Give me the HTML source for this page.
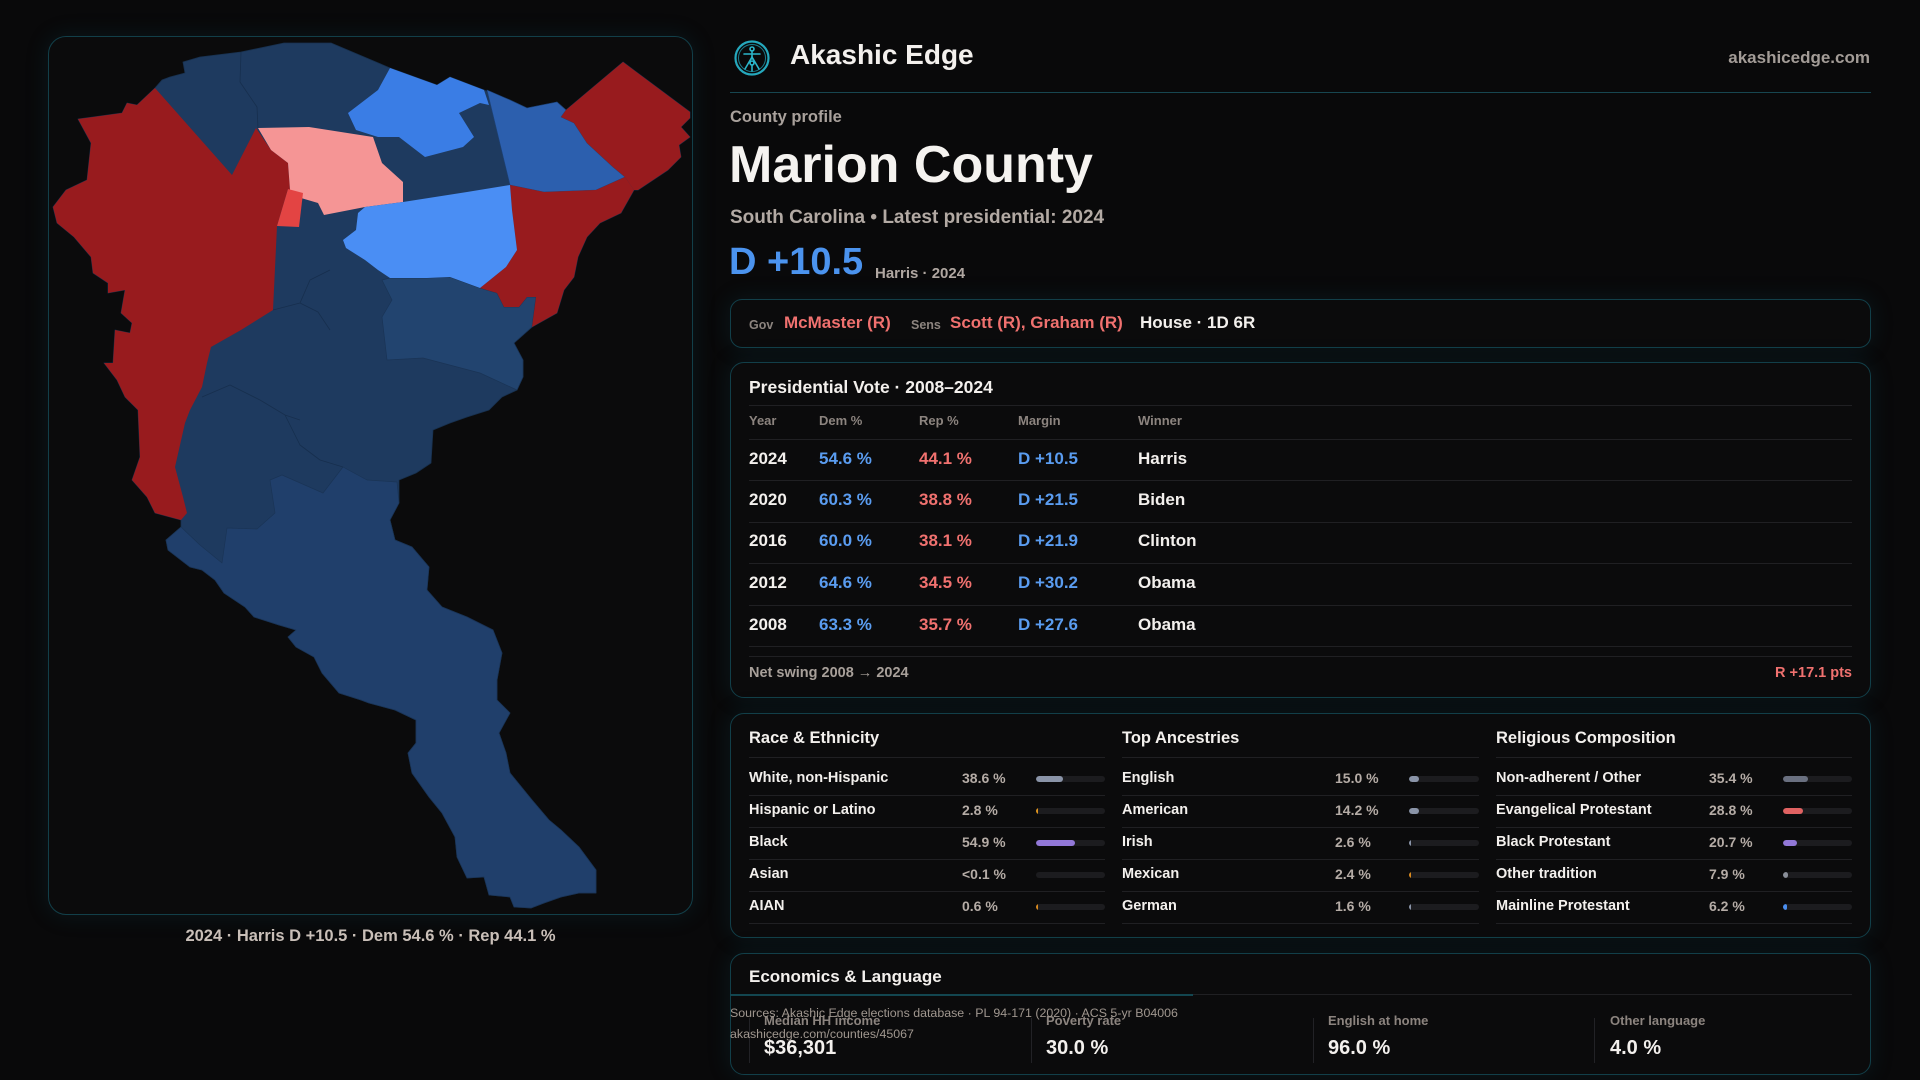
<!DOCTYPE html>
<html>
<head>
<meta charset="utf-8">
<style>
  html,body{margin:0;padding:0;}
  body{width:1920px;height:1080px;overflow:hidden;background:#09090a;position:relative;font-family:"Liberation Sans",sans-serif;}
  .t{position:absolute;line-height:1;white-space:nowrap;font-weight:bold;font-family:"Liberation Sans",sans-serif;}
  .panel{position:absolute;box-sizing:border-box;border:1.5px solid #123f49;border-radius:14px;background:#0b0b0c;box-shadow:0 0 22px 2px rgba(20,85,105,0.16);}
  .ln{position:absolute;height:1px;background:#202023;}
  .vl{position:absolute;width:1px;background:#222226;}
  .trk{position:absolute;height:6px;border-radius:3px;background:#1c1c1f;overflow:hidden;}
  .trk i{position:absolute;left:0;top:0;height:6px;border-radius:3px;display:block;}
  .w{color:#f3f0ed;}
  .g{color:#8c847f;}
  .v{color:#b5aca6;}
  .b{color:#5a9cf0;}
  .r{color:#f0716f;}
</style>
</head>
<body>

<!-- Map panel -->
<div class="panel" style="left:48px;top:36px;width:645px;height:879px;border-radius:18px;"></div>
<svg style="position:absolute;left:0;top:0" width="720" height="940" viewBox="0 0 720 940">
  <g stroke-linejoin="round">
    <!-- base navy -->
    <path fill="#1e3a5f" stroke="#18314f" stroke-width="0.8" d="M78,119 L93,117 122,113 127,103 137,105 155,88 162,80 170,77 185,73 183,62 200,57 241,52 284,43 331,43 390,68 437,85 450,77 484,90 510,100 527,108 557,102 566,110 623,62 690,112 690,118 681,127 690,137 679,145 681,157 668,170 638,190 634,190 621,213 600,223 587,237 578,257 574,277 564,290 557,313 532,327 514,343 523,360 523,377 517,390 502,397 489,410 467,417 450,423 433,430 431,463 416,473 399,480 399,503 390,520 395,540 412,547 429,567 427,590 442,607 467,617 493,630 502,653 497,680 497,700 510,713 499,733 506,753 510,773 532,800 549,820 561,830 579,847 596,870 596,893 579,893 561,897 544,903 531,908 514,907 510,897 489,895 484,877 467,878 457,857 455,837 442,813 429,797 412,773 408,753 416,743 416,720 395,710 369,703 361,700 339,693 322,673 314,657 296,647 288,637 296,630 279,625 254,617 245,607 224,593 215,580 202,570 190,567 168,550 166,540 181,527 181,520 155,513 147,497 132,480 140,457 138,410 125,397 117,380 104,363 113,363 115,330 130,333 132,323 121,313 125,290 108,293 108,283 93,273 91,257 74,237 57,223 53,207 66,190 87,180 91,143 Z"/>
    <!-- south lighter lobe -->
    <path fill="#203f6b" stroke="#1a3456" stroke-width="0.7" d="M181,527 L200,545 222,563 227,528 257,529 275,513 270,480 282,475 323,493 343,467 367,480 397,482 399,503 390,520 395,540 412,547 429,567 427,590 442,607 467,617 493,630 502,653 497,680 497,700 510,713 499,733 506,753 510,773 532,800 549,820 561,830 579,847 596,870 596,893 579,893 561,897 544,903 531,908 514,907 510,897 489,895 484,877 467,878 457,857 455,837 442,813 429,797 412,773 408,753 416,743 416,720 395,710 369,703 361,700 339,693 322,673 314,657 296,647 288,637 296,630 279,625 254,617 245,607 224,593 215,580 202,570 190,567 168,550 166,540 Z"/>
    <!-- east-mid navy -->
    <path fill="#22446f" stroke="#1a3456" stroke-width="0.7" d="M390,278 L427,278 450,277 480,288 497,293 504,307 519,307 527,297 536,297 532,327 514,343 523,360 523,377 517,390 480,373 423,358 387,360 382,317 392,300 382,280 Z"/>
    <!-- internal boundaries -->
    <path fill="none" stroke="#172f4e" stroke-width="0.8" d="M241,52 L240,82 257,107 258,128 M273,310 L300,303 318,312 330,330 M300,303 L310,280 330,270 M202,397 L230,385 260,400 285,415 300,420 M285,415 L300,445 320,460 343,467"/>
    <!-- west red -->
    <path fill="#981b1e" d="M78,119 L93,117 122,113 127,103 137,105 155,88 232,175 256,128 271,150 288,163 290,190 288,189 277,226 273,310 241,330 211,347 207,363 202,387 190,410 185,423 175,467 183,497 187,513 181,520 155,513 147,497 132,480 140,457 138,410 125,397 117,380 104,363 113,363 115,330 130,333 132,323 121,313 125,290 108,293 108,283 93,273 91,257 74,237 57,223 53,207 66,190 87,180 91,143 Z"/>
    <!-- pink -->
    <path fill="#f59595" d="M258,128 L309,127 373,137 382,163 403,182 403,202 365,207 324,215 318,203 301,198 290,190 288,163 271,150 Z"/>
    <!-- small bright red -->
    <path fill="#e34443" d="M288,189 L303,193 299,227 277,226 Z"/>
    <!-- top bright blue -->
    <path fill="#3a7de5" d="M390,68 L437,85 450,77 484,90 489,105 480,103 459,113 474,137 463,147 425,157 399,137 378,137 356,130 348,113 378,90 Z"/>
    <!-- NE mid blue -->
    <path fill="#2c5fae" stroke="#1d4277" stroke-width="0.6" d="M487,90 L510,100 527,108 557,102 566,110 561,117 574,123 587,143 613,167 625,177 596,190 544,192 510,185 Z"/>
    <!-- NE red -->
    <path fill="#981b1e" d="M566,110 L623,62 690,112 690,118 681,127 690,137 679,145 681,157 668,170 638,190 634,190 625,177 613,167 587,143 574,123 561,117 Z"/>
    <!-- east red -->
    <path fill="#981b1e" d="M510,185 L544,192 596,190 625,177 634,190 621,213 600,223 587,237 578,257 574,277 564,290 557,313 532,327 536,297 527,297 519,307 504,307 497,293 480,288 506,267 517,250 512,210 Z"/>
    <!-- light blue center -->
    <path fill="#4a8ef4" d="M365,207 L403,202 467,192 510,185 512,210 517,250 506,267 480,288 450,277 427,278 390,278 378,270 365,260 346,248 343,240 356,230 358,213 Z"/>
  </g>
</svg>
<div class="t" style="left:0;width:741px;text-align:center;top:928px;font-size:16.5px;color:#c9bfb8;">2024 · Harris D +10.5 · Dem 54.6 % · Rep 44.1 %</div>

<!-- Header -->
<svg style="position:absolute;left:732px;top:38px" width="40" height="40" viewBox="0 0 40 40">
  <circle cx="20" cy="20" r="16.5" fill="none" stroke="#25a8bd" stroke-width="2.2"/>
  <circle cx="20" cy="20" r="13.5" fill="none" stroke="#1a7d8d" stroke-width="1"/>
  <g stroke="#2bb5c9" stroke-width="1.6" fill="none" stroke-linecap="round">
    <circle cx="20" cy="11" r="2"/>
    <line x1="12" y1="16" x2="28" y2="16"/>
    <line x1="20" y1="13" x2="20" y2="21"/>
    <line x1="20" y1="19" x2="13" y2="31"/>
    <line x1="20" y1="19" x2="27" y2="31"/>
    <circle cx="20" cy="25" r="2"/>
    <line x1="20" y1="27" x2="20" y2="33"/>
  </g>
</svg>
<div class="t w" style="left:790px;top:41px;font-size:28px;">Akashic Edge</div>
<div class="t" style="right:50px;top:48.6px;font-size:17px;color:#a39c97;">akashicedge.com</div>
<div style="position:absolute;left:730px;top:91.5px;width:1141px;height:1.5px;background:#174650;"></div>

<div class="t" style="left:730px;top:109px;font-size:16.5px;color:#a9a19c;">County profile</div>
<div class="t" style="left:729px;top:139px;font-size:52px;color:#f5f3f0;">Marion County</div>
<div class="t" style="left:730px;top:208px;font-size:19px;color:#b3aaa4;">South Carolina • Latest presidential: 2024</div>
<div class="t" style="left:729px;top:243px;font-size:38px;color:#4b93ee;">D +10.5</div>
<div class="t" style="left:875px;top:266.3px;font-size:15px;color:#b0a7a1;">Harris · 2024</div>

<!-- Gov box -->
<div class="panel" style="left:730px;top:299px;width:1141px;height:49px;border-radius:12px;"></div>
<div class="t g" style="left:749px;top:319px;font-size:12.5px;">Gov</div>
<div class="t r" style="left:784px;top:313.6px;font-size:17px;">McMaster (R)</div>
<div class="t g" style="left:911px;top:319px;font-size:12.5px;">Sens</div>
<div class="t r" style="left:950px;top:313.6px;font-size:17px;">Scott (R), Graham (R)</div>
<div class="t w" style="left:1140px;top:313.6px;font-size:17px;">House · 1D 6R</div>

<!-- Presidential panel -->
<div class="panel" style="left:730px;top:362px;width:1141px;height:336px;"></div>
<div class="t w" style="left:749px;top:378.5px;font-size:17.5px;">Presidential Vote · 2008–2024</div>
<div class="ln" style="left:749px;top:405px;width:1103px;"></div>
<div class="t g" style="left:749px;top:414px;font-size:13px;">Year</div>
<div class="t g" style="left:819px;top:414px;font-size:13px;">Dem %</div>
<div class="t g" style="left:919px;top:414px;font-size:13px;">Rep %</div>
<div class="t g" style="left:1018px;top:414px;font-size:13px;">Margin</div>
<div class="t g" style="left:1138px;top:414px;font-size:13px;">Winner</div>
<div class="ln" style="left:749px;top:439px;width:1103px;"></div>

<div class="t w" style="left:749px;top:449.6px;font-size:17px;">2024</div>
<div class="t b" style="left:819px;top:449.6px;font-size:17px;">54.6 %</div>
<div class="t r" style="left:919px;top:449.6px;font-size:17px;">44.1 %</div>
<div class="t b" style="left:1018px;top:449.6px;font-size:17px;">D +10.5</div>
<div class="t w" style="left:1138px;top:449.6px;font-size:17px;">Harris</div>
<div class="ln" style="left:749px;top:480px;width:1103px;"></div>

<div class="t w" style="left:749px;top:491.3px;font-size:17px;">2020</div>
<div class="t b" style="left:819px;top:491.3px;font-size:17px;">60.3 %</div>
<div class="t r" style="left:919px;top:491.3px;font-size:17px;">38.8 %</div>
<div class="t b" style="left:1018px;top:491.3px;font-size:17px;">D +21.5</div>
<div class="t w" style="left:1138px;top:491.3px;font-size:17px;">Biden</div>
<div class="ln" style="left:749px;top:521.7px;width:1103px;"></div>

<div class="t w" style="left:749px;top:532.3px;font-size:17px;">2016</div>
<div class="t b" style="left:819px;top:532.3px;font-size:17px;">60.0 %</div>
<div class="t r" style="left:919px;top:532.3px;font-size:17px;">38.1 %</div>
<div class="t b" style="left:1018px;top:532.3px;font-size:17px;">D +21.9</div>
<div class="t w" style="left:1138px;top:532.3px;font-size:17px;">Clinton</div>
<div class="ln" style="left:749px;top:563.3px;width:1103px;"></div>

<div class="t w" style="left:749px;top:574.3px;font-size:17px;">2012</div>
<div class="t b" style="left:819px;top:574.3px;font-size:17px;">64.6 %</div>
<div class="t r" style="left:919px;top:574.3px;font-size:17px;">34.5 %</div>
<div class="t b" style="left:1018px;top:574.3px;font-size:17px;">D +30.2</div>
<div class="t w" style="left:1138px;top:574.3px;font-size:17px;">Obama</div>
<div class="ln" style="left:749px;top:605.3px;width:1103px;"></div>

<div class="t w" style="left:749px;top:616.3px;font-size:17px;">2008</div>
<div class="t b" style="left:819px;top:616.3px;font-size:17px;">63.3 %</div>
<div class="t r" style="left:919px;top:616.3px;font-size:17px;">35.7 %</div>
<div class="t b" style="left:1018px;top:616.3px;font-size:17px;">D +27.6</div>
<div class="t w" style="left:1138px;top:616.3px;font-size:17px;">Obama</div>
<div class="ln" style="left:749px;top:646px;width:1103px;"></div>
<div class="ln" style="left:749px;top:656px;width:1103px;"></div>

<div class="t" style="left:749px;top:665.7px;font-size:14.5px;color:#a8a09a;">Net swing 2008 → 2024</div>
<div class="t r" style="right:68px;top:665.7px;font-size:14.5px;">R +17.1 pts</div>

<!-- Demographics panel -->
<div class="panel" style="left:730px;top:713px;width:1141px;height:225px;"></div>
<div class="t w" style="left:749px;top:730px;font-size:16.5px;">Race &amp; Ethnicity</div>
<div class="t w" style="left:1122px;top:730px;font-size:16.5px;">Top Ancestries</div>
<div class="t w" style="left:1496px;top:730px;font-size:16.5px;">Religious Composition</div>
<div class="ln" style="left:749px;top:757px;width:356px;"></div>
<div class="ln" style="left:1122px;top:757px;width:357px;"></div>
<div class="ln" style="left:1496px;top:757px;width:356px;"></div>

<!-- col1 -->
<div class="t w" style="left:749px;top:770.7px;font-size:14.5px;">White, non-Hispanic</div>
<div class="t v" style="left:962px;top:771px;font-size:14px;">38.6 %</div>
<div class="trk" style="left:1036px;top:776px;width:69px;"><i style="width:27px;background:#8a94a8;"></i></div>
<div class="t w" style="left:749px;top:802.7px;font-size:14.5px;">Hispanic or Latino</div>
<div class="t v" style="left:962px;top:803px;font-size:14px;">2.8 %</div>
<div class="trk" style="left:1036px;top:808px;width:69px;"><i style="width:2px;border-radius:0;background:#e0951f;"></i></div>
<div class="t w" style="left:749px;top:834.7px;font-size:14.5px;">Black</div>
<div class="t v" style="left:962px;top:835px;font-size:14px;">54.9 %</div>
<div class="trk" style="left:1036px;top:840px;width:69px;"><i style="width:39px;background:#9278d8;"></i></div>
<div class="t w" style="left:749px;top:866.7px;font-size:14.5px;">Asian</div>
<div class="t v" style="left:962px;top:867px;font-size:14px;">&lt;0.1 %</div>
<div class="trk" style="left:1036px;top:872px;width:69px;"></div>
<div class="t w" style="left:749px;top:898.7px;font-size:14.5px;">AIAN</div>
<div class="t v" style="left:962px;top:899px;font-size:14px;">0.6 %</div>
<div class="trk" style="left:1036px;top:904px;width:69px;"><i style="width:1.5px;border-radius:0;background:#d98a1f;"></i></div>
<div class="ln" style="left:749px;top:795px;width:356px;"></div>
<div class="ln" style="left:749px;top:827px;width:356px;"></div>
<div class="ln" style="left:749px;top:859px;width:356px;"></div>
<div class="ln" style="left:749px;top:891px;width:356px;"></div>
<div class="ln" style="left:749px;top:923px;width:356px;"></div>

<!-- col2 -->
<div class="t w" style="left:1122px;top:770.7px;font-size:14.5px;">English</div>
<div class="t v" style="left:1335px;top:771px;font-size:14px;">15.0 %</div>
<div class="trk" style="left:1409px;top:776px;width:70px;"><i style="width:10px;background:#8a94a8;"></i></div>
<div class="t w" style="left:1122px;top:802.7px;font-size:14.5px;">American</div>
<div class="t v" style="left:1335px;top:803px;font-size:14px;">14.2 %</div>
<div class="trk" style="left:1409px;top:808px;width:70px;"><i style="width:10px;background:#8a94a8;"></i></div>
<div class="t w" style="left:1122px;top:834.7px;font-size:14.5px;">Irish</div>
<div class="t v" style="left:1335px;top:835px;font-size:14px;">2.6 %</div>
<div class="trk" style="left:1409px;top:840px;width:70px;"><i style="width:2px;border-radius:0;background:#8a94a8;"></i></div>
<div class="t w" style="left:1122px;top:866.7px;font-size:14.5px;">Mexican</div>
<div class="t v" style="left:1335px;top:867px;font-size:14px;">2.4 %</div>
<div class="trk" style="left:1409px;top:872px;width:70px;"><i style="width:2px;border-radius:0;background:#d98a1f;"></i></div>
<div class="t w" style="left:1122px;top:898.7px;font-size:14.5px;">German</div>
<div class="t v" style="left:1335px;top:899px;font-size:14px;">1.6 %</div>
<div class="trk" style="left:1409px;top:904px;width:70px;"><i style="width:1.5px;border-radius:0;background:#8a94a8;"></i></div>
<div class="ln" style="left:1122px;top:795px;width:357px;"></div>
<div class="ln" style="left:1122px;top:827px;width:357px;"></div>
<div class="ln" style="left:1122px;top:859px;width:357px;"></div>
<div class="ln" style="left:1122px;top:891px;width:357px;"></div>
<div class="ln" style="left:1122px;top:923px;width:357px;"></div>

<!-- col3 -->
<div class="t w" style="left:1496px;top:770.7px;font-size:14.5px;">Non-adherent / Other</div>
<div class="t v" style="left:1709px;top:771px;font-size:14px;">35.4 %</div>
<div class="trk" style="left:1783px;top:776px;width:69px;"><i style="width:25px;background:#6a7080;"></i></div>
<div class="t w" style="left:1496px;top:802.7px;font-size:14.5px;">Evangelical Protestant</div>
<div class="t v" style="left:1709px;top:803px;font-size:14px;">28.8 %</div>
<div class="trk" style="left:1783px;top:808px;width:69px;"><i style="width:20px;background:#e06262;"></i></div>
<div class="t w" style="left:1496px;top:834.7px;font-size:14.5px;">Black Protestant</div>
<div class="t v" style="left:1709px;top:835px;font-size:14px;">20.7 %</div>
<div class="trk" style="left:1783px;top:840px;width:69px;"><i style="width:14px;background:#9278d8;"></i></div>
<div class="t w" style="left:1496px;top:866.7px;font-size:14.5px;">Other tradition</div>
<div class="t v" style="left:1709px;top:867px;font-size:14px;">7.9 %</div>
<div class="trk" style="left:1783px;top:872px;width:69px;"><i style="width:5px;background:#8a8f99;"></i></div>
<div class="t w" style="left:1496px;top:898.7px;font-size:14.5px;">Mainline Protestant</div>
<div class="t v" style="left:1709px;top:899px;font-size:14px;">6.2 %</div>
<div class="trk" style="left:1783px;top:904px;width:69px;"><i style="width:4px;background:#4a8ef0;"></i></div>
<div class="ln" style="left:1496px;top:795px;width:356px;"></div>
<div class="ln" style="left:1496px;top:827px;width:356px;"></div>
<div class="ln" style="left:1496px;top:859px;width:356px;"></div>
<div class="ln" style="left:1496px;top:891px;width:356px;"></div>
<div class="ln" style="left:1496px;top:923px;width:356px;"></div>

<!-- Economics panel -->
<div class="panel" style="left:730px;top:953px;width:1141px;height:122px;"></div>
<div class="t w" style="left:749px;top:968.3px;font-size:17px;">Economics &amp; Language</div>
<div class="ln" style="left:749px;top:994px;width:1103px;"></div>
<div style="position:absolute;left:730px;top:994px;width:463px;height:1.5px;background:#134650;"></div>
<div class="vl" style="left:749px;top:1018px;height:45px;"></div>
<div class="vl" style="left:1031px;top:1018px;height:45px;"></div>
<div class="vl" style="left:1313px;top:1018px;height:45px;"></div>
<div class="vl" style="left:1594px;top:1018px;height:45px;"></div>
<div class="t g" style="left:764px;top:1014px;font-size:13px;">Median HH income</div>
<div class="t g" style="left:1046px;top:1014px;font-size:13px;">Poverty rate</div>
<div class="t g" style="left:1328px;top:1014px;font-size:13px;">English at home</div>
<div class="t g" style="left:1610px;top:1014px;font-size:13px;">Other language</div>
<div class="t w" style="left:764px;top:1038px;font-size:20px;">$36,301</div>
<div class="t w" style="left:1046px;top:1038px;font-size:20px;">30.0 %</div>
<div class="t w" style="left:1328px;top:1038px;font-size:20px;">96.0 %</div>
<div class="t w" style="left:1610px;top:1038px;font-size:20px;">4.0 %</div>
<div class="t" style="left:730px;top:1006.5px;font-size:12.4px;font-weight:normal;color:#a0978f;">Sources: Akashic Edge elections database · PL 94-171 (2020) · ACS 5-yr B04006</div>
<div class="t" style="left:730px;top:1027.5px;font-size:12.4px;font-weight:normal;color:#a0978f;">akashicedge.com/counties/45067</div>

</body>
</html>
